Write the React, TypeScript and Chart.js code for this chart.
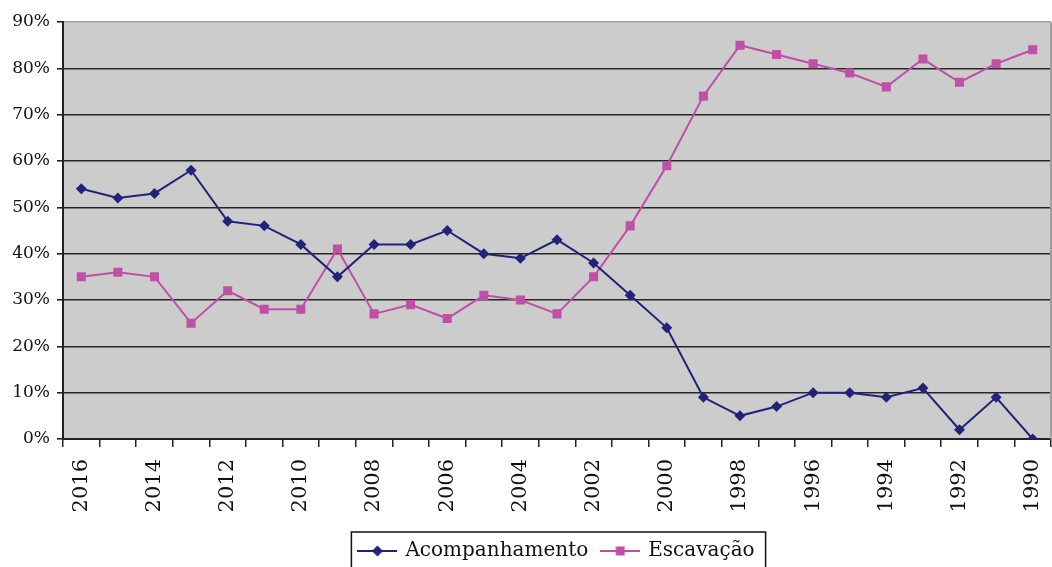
import React, { useEffect, useRef } from "react";
import { Chart, registerables } from "chart.js";

Chart.register(...registerables);

const years = [2016, 2015, 2014, 2013, 2012, 2011, 2010, 2009, 2008, 2007, 2006, 2005, 2004, 2003, 2002, 2001, 2000, 1999, 1998, 1997, 1996, 1995, 1994, 1993, 1992, 1991, 1990];
const shownYears = [2016, 2014, 2012, 2010, 2008, 2006, 2004, 2002, 2000, 1998, 1996, 1994, 1992, 1990];
const acompanhamento = [54, 52, 53, 58, 47, 46, 42, 35, 42, 42, 45, 40, 39, 43, 38, 31, 24, 9, 5, 7, 10, 10, 9, 11, 2, 9, 0];
const escavacao = [35, 36, 35, 25, 32, 28, 28, 41, 27, 29, 26, 31, 30, 27, 35, 46, 59, 74, 85, 83, 81, 79, 76, 82, 77, 81, 84];
const yTicks = [0, 10, 20, 30, 40, 50, 60, 70, 80, 90];

const NAVY = "#22227a";
const MAGENTA = "#c050a6";
const FONT = "'DejaVu Serif', serif";

function makeLegendIcon(color: string, style: string): HTMLCanvasElement {
  const c = document.createElement("canvas");
  c.width = 40;
  c.height = 14;
  const g = c.getContext("2d")!;
  g.strokeStyle = color;
  g.lineWidth = 2;
  g.beginPath();
  g.moveTo(0, 7);
  g.lineTo(40, 7);
  g.stroke();
  g.fillStyle = color;
  g.beginPath();
  if (style === "diamond") {
    g.moveTo(20, 1.5);
    g.lineTo(25.5, 7);
    g.lineTo(20, 12.5);
    g.lineTo(14.5, 7);
    g.closePath();
  } else {
    g.rect(15.5, 2.5, 9, 9);
  }
  g.fill();
  return c;
}

export default function App() {
  const ref = useRef<HTMLCanvasElement | null>(null);

  useEffect(() => {
    if (!ref.current) return;
    const icons = [makeLegendIcon(NAVY, "diamond"), makeLegendIcon(MAGENTA, "square")];

    const bgPlugin = {
      id: "plotBg",
      beforeDraw(chart: any) {
        const { ctx, chartArea: a } = chart;
        ctx.save();
        ctx.fillStyle = "#cccccc";
        ctx.fillRect(a.left, a.top, a.right - a.left, a.bottom - a.top);
        ctx.restore();
      },
      afterDraw(chart: any) {
        const { ctx, chartArea: a } = chart;
        ctx.save();
        ctx.strokeStyle = "#a0a0a0";
        ctx.lineWidth = 2;
        ctx.beginPath();
        ctx.moveTo(a.right, a.top);
        ctx.lineTo(a.right, a.bottom);
        ctx.stroke();
        const l = chart.legend;
        if (l && l.legendHitBoxes && l.legendHitBoxes.length) {
          const hbs = l.legendHitBoxes;
          const left = Math.min(...hbs.map((h: any) => h.left)) - 8;
          const right = Math.max(...hbs.map((h: any) => h.left + h.width)) + 11;
          const top = hbs[0].top - 9;
          ctx.strokeStyle = "#111";
          ctx.lineWidth = 1.5;
          ctx.strokeRect(left, top, right - left, 60);
        }
        ctx.restore();
      },
    };

    const chart = new Chart(ref.current, {
      type: "line",
      data: {
        labels: years.map(String),
        datasets: [
          {
            label: "Acompanhamento",
            data: acompanhamento,
            borderColor: NAVY,
            backgroundColor: NAVY,
            borderWidth: 2,
            pointStyle: "rectRot",
            pointRadius: 5.5,
            pointBorderWidth: 0,
            tension: 0,
          },
          {
            label: "Escavação",
            data: escavacao,
            borderColor: MAGENTA,
            backgroundColor: MAGENTA,
            borderWidth: 2,
            pointStyle: "rect",
            pointRadius: 6.4,
            pointBorderWidth: 0,
            tension: 0,
          },
        ],
      },
      options: {
        responsive: false,
        animation: false,
        layout: { autoPadding: false, padding: { top: 22, right: 1, left: 0, bottom: -4 } },
        plugins: {
          tooltip: { enabled: false },
          legend: {
            position: "bottom",
            fullSize: false,
            labels: {
              usePointStyle: true,
              pointStyleWidth: 36,
              padding: 14,
              color: "#111",
              font: { family: FONT, size: 20 },
              generateLabels: (chart: any) =>
                chart.data.datasets.map((ds: any, i: number) => ({
                  text: ds.label,
                  pointStyle: icons[i],
                  fillStyle: ds.borderColor,
                  strokeStyle: ds.borderColor,
                  lineWidth: 0,
                  datasetIndex: i,
                  hidden: false,
                  fontColor: "#111",
                })),
            },
          },
        },
        scales: {
          x: {
            offset: true,
            afterFit: (s: any) => {
              s.height = 88;
              s.paddingLeft = 0;
              s.paddingRight = 0;
            },
            grid: {
              display: true,
              offset: true,
              drawOnChartArea: false,
              drawTicks: true,
              tickLength: 8,
              color: "#222",
              lineWidth: 1.5,
            },
            border: { display: true, color: "#222", width: 2 },
            ticks: {
              autoSkip: false,
              minRotation: 90,
              maxRotation: 90,
              padding: 12,
              color: "#111",
              font: { family: FONT, size: 21 },
              callback: (_v: any, i: number) => (shownYears.includes(years[i]) ? String(years[i]) : ""),
            },
          },
          y: {
            min: 0,
            max: 90,
            afterFit: (s: any) => {
              s.width = 63;
            },
            afterBuildTicks: (s: any) => {
              s.ticks = yTicks.map((v) => ({ value: v }));
            },
            grid: {
              color: (c: any) => (c.tick && c.tick.value === 90 ? "#a0a0a0" : "#262626"),
              tickColor: "#222",
              lineWidth: 1.6,
              tickLength: 6,
            },
            border: { display: true, color: "#222", width: 2 },
            ticks: {
              padding: 7,
              color: "#111",
              font: { family: FONT, size: 17 },
              callback: (v: any) => v + "%",
            },
          },
        },
      },
      plugins: [bgPlugin],
    } as any);

    return () => chart.destroy();
  }, []);

  return (
    <div style={{ position: "absolute", left: 0, top: 0, width: 1052, height: 567, background: "#fff" }}>
      <canvas ref={ref} width={1052} height={567} style={{ display: "block" }} />
    </div>
  );
}
